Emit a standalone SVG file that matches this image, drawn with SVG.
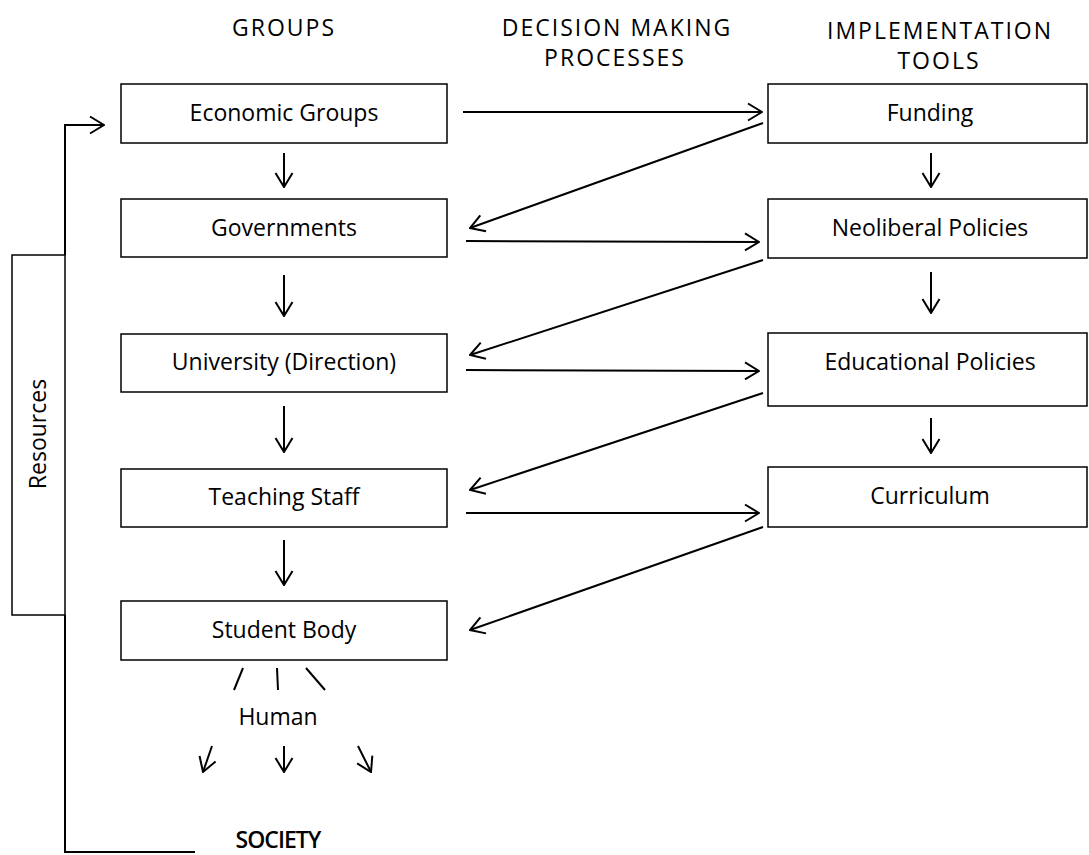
<svg xmlns="http://www.w3.org/2000/svg" width="1089" height="855" viewBox="0 0 1089 855">
<style>
text{font-family:"Open Sans","Noto Sans","Liberation Sans",sans-serif;font-size:23px;fill:#000;text-anchor:middle}
.hd{letter-spacing:2px}
.box{fill:#fff;stroke:#000;stroke-width:1.5}
.c{stroke:#000;stroke-width:2;fill:none}
</style>
<defs>
<marker id="ah" viewBox="0 0 16 20" refX="15" refY="10" markerWidth="16" markerHeight="20" markerUnits="userSpaceOnUse" orient="auto">
<path d="M1,1.5 L15,10 L1,18.5" fill="none" stroke="#000" stroke-width="2"/>
</marker>
</defs>
<g id="headers">
<text class="hd" x="284" y="36">GROUPS</text>
<text class="hd" x="617" y="36">DECISION MAKING</text>
<text class="hd" x="615" y="66">PROCESSES</text>
<text class="hd" x="940" y="39">IMPLEMENTATION</text>
<text class="hd" x="939" y="69">TOOLS</text>
</g>
<g id="n-economic"><rect class="box" x="121" y="84" width="326" height="59"/><text x="284" y="121">Economic Groups</text></g>
<g id="n-governments"><rect class="box" x="121" y="199" width="326" height="58"/><text x="284" y="236">Governments</text></g>
<g id="n-university"><rect class="box" x="121" y="334" width="326" height="58"/><text x="284" y="370">University (Direction)</text></g>
<g id="n-teaching"><rect class="box" x="121" y="469" width="326" height="58"/><text x="284" y="505">Teaching Staff</text></g>
<g id="n-student"><rect class="box" x="121" y="601" width="326" height="59"/><text x="284" y="638">Student Body</text></g>
<g id="n-funding"><rect class="box" x="768" y="84" width="319" height="59"/><text x="930" y="121">Funding</text></g>
<g id="n-neoliberal"><rect class="box" x="768" y="199" width="319" height="59"/><text x="930" y="236">Neoliberal Policies</text></g>
<g id="n-educational"><rect class="box" x="768" y="333" width="319" height="73"/><text x="930" y="370">Educational Policies</text></g>
<g id="n-curriculum"><rect class="box" x="768" y="467" width="319" height="60"/><text x="930" y="504">Curriculum</text></g>
<g id="n-resources"><rect class="box" x="12" y="255" width="53" height="360"/><text transform="translate(46,434) rotate(-90)">Resources</text></g>
<g id="n-human"><text x="278" y="725">Human</text></g>
<g id="n-society"><text x="278" y="848" style="font-weight:600;letter-spacing:-1px">SOCIETY</text></g>
<g id="connectors">
<line class="c" x1="463" y1="112" x2="762" y2="112" marker-end="url(#ah)"/>
<line class="c" x1="763" y1="123" x2="470" y2="228" marker-end="url(#ah)"/>
<line class="c" x1="466" y1="241" x2="759" y2="242" marker-end="url(#ah)"/>
<line class="c" x1="763" y1="260" x2="470" y2="355" marker-end="url(#ah)"/>
<line class="c" x1="466" y1="370" x2="759" y2="371" marker-end="url(#ah)"/>
<line class="c" x1="763" y1="393" x2="470" y2="490" marker-end="url(#ah)"/>
<line class="c" x1="466" y1="513" x2="759" y2="513" marker-end="url(#ah)"/>
<line class="c" x1="763" y1="527" x2="470" y2="630" marker-end="url(#ah)"/>
<line class="c" x1="284" y1="153" x2="284" y2="187" marker-end="url(#ah)"/>
<line class="c" x1="284" y1="275" x2="284" y2="316" marker-end="url(#ah)"/>
<line class="c" x1="284" y1="406" x2="284" y2="452" marker-end="url(#ah)"/>
<line class="c" x1="284" y1="540" x2="284" y2="585" marker-end="url(#ah)"/>
<line class="c" x1="931" y1="153" x2="931" y2="187" marker-end="url(#ah)"/>
<line class="c" x1="931" y1="272" x2="931" y2="313" marker-end="url(#ah)"/>
<line class="c" x1="931" y1="418" x2="931" y2="453" marker-end="url(#ah)"/>
<polyline class="c" points="65,255 65,125 104,125" marker-end="url(#ah)"/>
<polyline class="c" points="65,615 65,852 195,852"/>
<line class="c" x1="243" y1="668" x2="234" y2="690"/>
<line class="c" x1="277" y1="668" x2="278" y2="690"/>
<line class="c" x1="306" y1="668" x2="325" y2="690"/>
<line class="c" x1="212" y1="746" x2="203" y2="772" marker-end="url(#ah)"/>
<line class="c" x1="284" y1="746" x2="284" y2="772" marker-end="url(#ah)"/>
<line class="c" x1="358" y1="746" x2="371" y2="772" marker-end="url(#ah)"/>
</g>
</svg>
